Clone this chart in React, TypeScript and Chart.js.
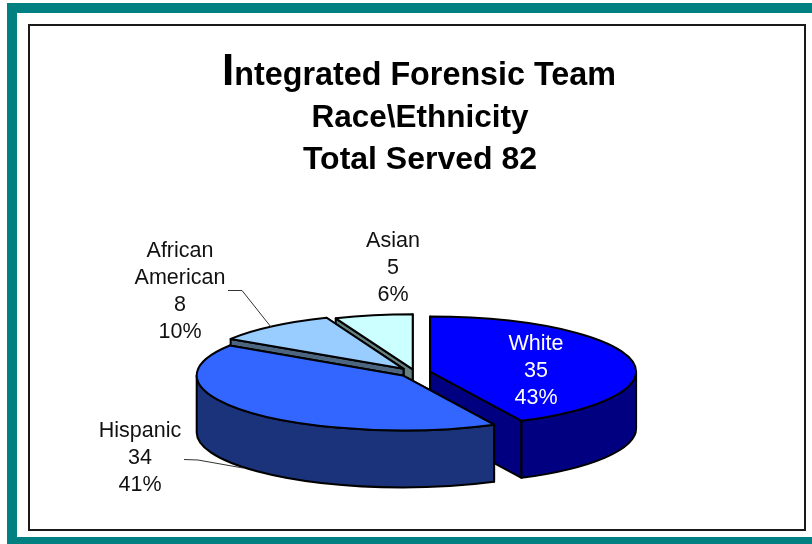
import React, { useEffect, useRef } from "react";
import { Chart, registerables } from "chart.js";

Chart.register(...registerables);

const categories = ["White", "Hispanic", "African American", "Asian"];
const labelLines = [["White"], ["Hispanic"], ["African", "American"], ["Asian"]];
const values = [35, 34, 8, 5];
const topColors = ["#0000FF", "#3366FF", "#99CCFF", "#CCFFFF"];
const sideColors = ["#000080", "#1A337A", "#4D6680", "#668080"];
const explode = [15.5, 16.5, 18, 12];
const labelColors = ["#FFFFFF", "#111111", "#111111", "#111111"];
const labelCenters = [[536, 344], [140, 431], [180, 251], [393, 241]];
const titleLines = ["ntegrated Forensic Team", "Race\\Ethnicity", "Total Served 82"];
const titleInitial = "I";

const SQUASH = 0.267;
const DEPTH = 57;
const FONT = "Liberation Sans, Arial, sans-serif";

const frame = {
  id: "frame",
  beforeDraw(chart: any) {
    const { ctx } = chart;
    ctx.save();
    ctx.fillStyle = "#FFFFFF";
    ctx.fillRect(0, 0, 812, 544);
    ctx.fillStyle = "#008080";
    ctx.fillRect(7, 3, 805, 10);
    ctx.fillRect(7, 3, 10, 541);
    ctx.fillRect(7, 537, 805, 7);
    ctx.strokeStyle = "#1A1A1A";
    ctx.lineWidth = 2;
    ctx.strokeRect(29, 25, 776, 505);
    ctx.restore();
  },
};

const pie3d = {
  id: "pie3d",
  beforeDatasetsDraw(chart: any) {
    const { ctx } = chart;
    const arcs = chart.getDatasetMeta(0).data;
    // back slices first, then the front ones
    const order = [3, 2, 0, 1];
    ctx.save();
    ctx.lineWidth = 2;
    ctx.lineJoin = "round";
    ctx.strokeStyle = "#000000";
    for (const i of order) {
      const arc = arcs[i];
      const { x, y, startAngle: s, endAngle: e, outerRadius: r } = arc.getProps(
        ["x", "y", "startAngle", "endAngle", "outerRadius"],
        true
      );
      const mid = (s + e) / 2;
      const off = arc.options.offset || 0;
      const cx = x + Math.cos(mid) * off;
      const cy = y + Math.sin(mid) * off * SQUASH;
      const ry = r * SQUASH;
      const px = (a: number) => cx + Math.cos(a) * r;
      const py = (a: number) => cy + Math.sin(a) * ry;

      ctx.fillStyle = sideColors[i];
      const faces = [s, e].sort((a, b) => py(a) - py(b));
      for (const a of faces) {
        ctx.beginPath();
        ctx.moveTo(cx, cy);
        ctx.lineTo(px(a), py(a));
        ctx.lineTo(px(a), py(a) + DEPTH);
        ctx.lineTo(cx, cy + DEPTH);
        ctx.closePath();
        ctx.fill();
        ctx.stroke();
      }
      const ws = Math.max(s, 0);
      const we = Math.min(e, Math.PI);
      if (ws < we) {
        ctx.beginPath();
        ctx.ellipse(cx, cy, r, ry, 0, ws, we);
        ctx.ellipse(cx, cy + DEPTH, r, ry, 0, we, ws, true);
        ctx.closePath();
        ctx.fill();
        ctx.stroke();
      }
      ctx.fillStyle = topColors[i];
      ctx.beginPath();
      ctx.moveTo(cx, cy);
      ctx.ellipse(cx, cy, r, ry, 0, s, e);
      ctx.closePath();
      ctx.fill();
      ctx.stroke();
    }
    ctx.restore();
    return false;
  },
};

const annotations = {
  id: "annotations",
  afterDraw(chart: any) {
    const { ctx } = chart;
    ctx.save();
    ctx.textBaseline = "alphabetic";

    // title
    ctx.fillStyle = "#000000";
    ctx.textAlign = "left";
    const big = `bold 44px ${FONT}`;
    const norm = `bold 32.3px ${FONT}`;
    ctx.font = big;
    const w0 = ctx.measureText(titleInitial).width;
    ctx.font = norm;
    const w1 = ctx.measureText(titleLines[0]).width;
    const x0 = 419 - (w0 + w1) / 2;
    ctx.font = big;
    ctx.fillText(titleInitial, x0, 85);
    ctx.font = norm;
    ctx.fillText(titleLines[0], x0 + w0, 85);
    ctx.textAlign = "center";
    ctx.font = `bold 31.5px ${FONT}`;
    ctx.fillText(titleLines[1], 420, 127);
    ctx.font = `bold 32px ${FONT}`;
    ctx.fillText(titleLines[2], 420, 169);

    // leader lines
    ctx.strokeStyle = "#333333";
    ctx.lineWidth = 1;
    ctx.beginPath();
    ctx.moveTo(228, 290.5);
    ctx.lineTo(242, 290.5);
    ctx.lineTo(271, 327);
    ctx.moveTo(184, 459.5);
    ctx.lineTo(198, 460);
    ctx.lineTo(243, 468);
    ctx.stroke();

    // data labels
    const total = values.reduce((a, b) => a + b, 0);
    ctx.font = `21.5px ${FONT}`;
    ctx.textBaseline = "middle";
    categories.forEach((_, i) => {
      const lines = [
        ...labelLines[i],
        String(values[i]),
        `${Math.round((values[i] / total) * 100)}%`,
      ];
      ctx.fillStyle = labelColors[i];
      lines.forEach((t, j) => {
        ctx.fillText(t, labelCenters[i][0], labelCenters[i][1] + j * 27);
      });
    });
    ctx.restore();
  },
};

export default function App() {
  const ref = useRef<HTMLCanvasElement>(null);
  useEffect(() => {
    const chart = new Chart(ref.current as HTMLCanvasElement, {
      type: "pie",
      data: {
        labels: categories,
        datasets: [
          {
            data: values,
            backgroundColor: topColors,
            offset: explode,
            radius: 206,
            borderWidth: 0,
          } as any,
        ],
      },
      options: {
        animation: false,
        responsive: false,
        layout: { padding: { left: 18, top: 201, right: 0, bottom: 0 } },
        plugins: { legend: { display: false }, tooltip: { enabled: false } },
      },
      plugins: [frame, pie3d, annotations],
    });
    return () => chart.destroy();
  }, []);
  return (
    <div style={{ position: "absolute", left: 0, top: 0, width: 812, height: 544 }}>
      <canvas ref={ref} width={812} height={544} style={{ display: "block" }} />
    </div>
  );
}
